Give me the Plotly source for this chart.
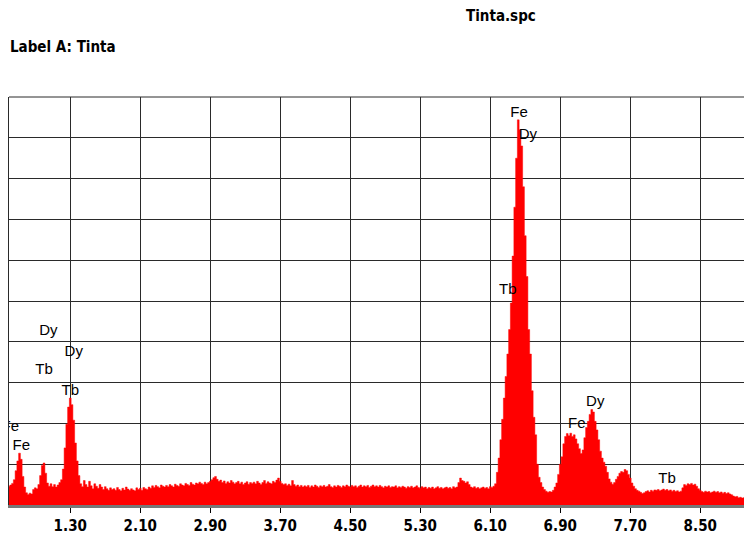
import numpy as np
import plotly.graph_objects as go

# EDS spectrum "Tinta.spc": channel width 0.02 keV starting at 0.60 keV
channel_start_kev = 0.60
channel_width_kev = 0.02

counts = [
    # 0.60 - 0.78
    46, 49, 53, 62, 84, 108, 127, 112, 70, 44,
    # 0.80 - 0.98
    30, 26, 29, 27, 38, 42, 40, 50, 72, 97,
    # 1.00 - 1.18
    103, 78, 54, 46, 52, 45, 50, 44, 49, 55,
    # 1.20 - 1.38
    62, 88, 140, 198, 240, 262, 246, 208, 152, 108,
    # 1.40 - 1.58
    72, 52, 45, 60, 50, 44, 58, 47, 40, 52,
    # 1.60 - 1.78
    46, 41, 50, 44, 38, 45, 40, 36, 42, 38,
    # 1.80 - 1.98
    40, 36, 43, 38, 35, 41, 37, 44, 39, 36,
    # 2.00 - 2.18
    40, 37, 35, 42, 38, 41, 36, 43, 40, 38,
    # 2.20 - 2.38
    44, 41, 47, 43, 48, 45, 42, 49, 46, 44,
    # 2.40 - 2.58
    48, 45, 50, 47, 44, 51, 48, 46, 52, 49,
    # 2.60 - 2.78
    47, 53, 50, 48, 55, 51, 49, 54, 52, 56,
    # 2.80 - 2.98
    53, 50, 56, 52, 55, 58, 62, 67, 70, 63,
    # 3.00 - 3.18
    58, 61, 55, 59, 53, 57, 54, 60, 56, 52,
    # 3.20 - 3.38
    55, 58, 52, 56, 50, 54, 57, 51, 55, 53,
    # 3.40 - 3.58
    56, 52, 58, 54, 50, 55, 60, 53, 57, 54,
    # 3.60 - 3.78
    52, 58, 55, 61, 66, 58, 53, 50, 52, 48,
    # 3.80 - 3.98
    51, 47, 60, 50, 46, 49, 45, 48, 44, 47,
    # 4.00 - 4.18
    45, 48, 43, 47, 44, 49, 46, 43, 47, 45,
    # 4.20 - 4.38
    48, 44, 46, 50, 45, 43, 47, 44, 48, 46,
    # 4.40 - 4.58
    43, 47, 45, 49, 46, 44, 48, 45, 47, 43,
    # 4.60 - 4.78
    46, 49, 44, 47, 45, 48, 43, 46, 49, 45,
    # 4.80 - 4.98
    47, 44, 48, 45, 42, 46, 44, 47, 43, 45,
    # 5.00 - 5.18
    44, 47, 42, 45, 43, 46, 44, 41, 45, 43,
    # 5.20 - 5.38
    46, 42, 44, 47, 43, 41, 45, 42, 44, 40,
    # 5.40 - 5.58
    43, 41, 44, 40, 42, 45, 41, 43, 40, 42,
    # 5.60 - 5.78
    44, 41, 43, 40, 45, 42, 44, 55, 66, 60,
    # 5.80 - 5.98
    58, 54, 57, 50, 44, 42, 45, 41, 43, 40,
    # 6.00 - 6.18
    42, 44, 41, 43, 40, 45, 43, 46, 52, 80,
    # 6.20 - 6.38
    115, 160, 210, 262, 315, 370, 430, 495, 610, 730,
    # 6.40 - 6.58
    850, 944, 920, 880, 780, 660, 560, 430, 370, 280,
    # 6.60 - 6.78
    215, 172, 100, 68, 55, 44, 38, 34, 31, 33,
    # 6.80 - 6.98
    32, 36, 44, 54, 75, 100, 118, 150, 168, 175,
    # 7.00 - 7.18
    170, 176, 168, 172, 162, 150, 138, 126, 135, 165,
    # 7.20 - 7.38
    190, 205, 222, 234, 228, 205, 184, 160, 132, 115,
    # 7.40 - 7.58
    105, 95, 80, 64, 56, 51, 55, 63, 70, 78,
    # 7.60 - 7.78
    82, 80, 87, 84, 75, 66, 54, 46, 40, 36,
    # 7.80 - 7.98
    34, 31, 28, 30, 33, 35, 32, 36, 34, 37,
    # 8.00 - 8.18
    36, 38, 35, 37, 39, 36, 38, 35, 37, 34,
    # 8.20 - 8.38
    36, 33, 35, 32, 34, 42, 50, 48, 52, 50,
    # 8.40 - 8.58
    53, 49, 51, 46, 40, 36, 33, 31, 34, 32,
    # 8.60 - 8.78
    33, 30, 32, 34, 31, 33, 30, 32, 29, 31,
    # 8.80 - 8.98
    28, 30, 27, 25, 22, 20, 21, 18, 19, 17,
    # 9.00
    18,
]

energy_kev = np.round(channel_start_kev + channel_width_kev * np.arange(len(counts)), 2)

tick_values = [1.30, 2.10, 2.90, 3.70, 4.50, 5.30, 6.10, 6.90, 7.70, 8.50]
tick_labels = ["1.30", "2.10", "2.90", "3.70", "4.50", "5.30", "6.10", "6.90", "7.70", "8.50"]

# Element identifications written on the spectrum
element_names = ["Fe", "Dy", "Tb", "Dy", "Dy", "Tb", "Tb", "Fe", "Fe", "Fe", "Dy", "Tb"]
# where each element name is written (keV, counts)
label_x = [6.43, 6.53, 6.30, 1.05, 1.34, 1.00, 1.30, 0.615, 0.74, 7.09, 7.30, 8.12]
label_y = [960, 907, 526, 426, 375, 331, 280, 191, 144, 198, 251, 62]

W, H = 744, 535
M_L, M_R, M_T, M_B = 9, 0, 97, 26
plot_h = H - M_T - M_B

def paper_y(px):
    return (H - M_B - px) / plot_h

def paper_x(px):
    return (px - M_L) / (W - M_L - M_R)

fig = go.Figure()

fig.add_trace(go.Scatter(
    x=energy_kev, y=counts,
    mode="lines", line=dict(color="#ff0000", width=0.5, shape="hvh"),
    fill="tozeroy", fillcolor="#ff0000",
    hoverinfo="x+y", showlegend=False,
))

fig.add_trace(go.Scatter(
    x=label_x, y=label_y, text=element_names,
    mode="text", textposition="middle center",
    textfont=dict(family="Liberation Sans, Arial, sans-serif", size=15, color="black"),
    cliponaxis=True, hoverinfo="skip", showlegend=False,
))

grid_color = "#2a2a2a"
narrow_bold = dict(family="DejaVu Sans Condensed, Liberation Sans Narrow, Arial Narrow, sans-serif",
                   size=15, color="black", weight="bold")

fig.update_layout(
    width=W, height=H,
    margin=dict(l=M_L, r=M_R, t=M_T, b=M_B, pad=0),
    paper_bgcolor="white", plot_bgcolor="white",
    xaxis=dict(
        range=[0.6, 9.0], tickvals=tick_values, ticktext=tick_labels,
        showgrid=True, gridcolor=grid_color, gridwidth=1,
        ticks="outside", ticklen=5, tickwidth=1, tickcolor="black",
        showline=True, linecolor="#777777", linewidth=3,
        zeroline=False, tickfont=narrow_bold, fixedrange=True,
    ),
    yaxis=dict(
        range=[0, 1000], dtick=100, tick0=0,
        showgrid=True, gridcolor=grid_color, gridwidth=1,
        showticklabels=False, ticks="",
        showline=True, linecolor=grid_color, linewidth=1,
        zeroline=False, fixedrange=True,
    ),
    shapes=[dict(type="line", xref="paper", yref="paper", x0=0, x1=1, y0=1, y1=1,
                 line=dict(color=grid_color, width=1))],
    annotations=[
        dict(text="Tinta.spc", xref="paper", yref="paper",
             x=paper_x(501), y=paper_y(15), xanchor="center", yanchor="middle",
             showarrow=False, font=narrow_bold),
        dict(text="Label A: Tinta", xref="paper", yref="paper",
             x=paper_x(8), y=paper_y(47), xanchor="left", yanchor="middle",
             showarrow=False, font=narrow_bold),
    ],
)

fig.write_html("out.html")
